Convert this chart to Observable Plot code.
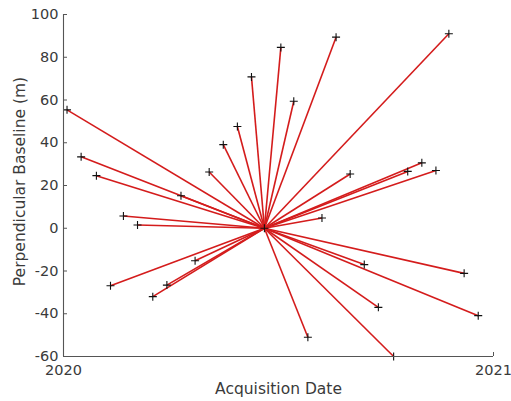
<!DOCTYPE html>
<html>
<head>
<meta charset="utf-8">
<script src="https://cdn.jsdelivr.net/npm/d3@7"></script>
<script src="https://cdn.jsdelivr.net/npm/@observablehq/plot@0.6"></script>
<style>
  html, body { margin: 0; padding: 0; background: #fff; }
  #chart svg { display: block; }
</style>
</head>
<body>
<div id="chart"></div>
<script>
// Data
const masterDate = "2020-06-20";
const masterBaseline = 0;
const dates = ["2020-01-04","2020-01-16","2020-01-29","2020-02-10","2020-02-21","2020-03-04","2020-03-17","2020-03-29","2020-04-10","2020-04-22","2020-05-04","2020-05-16","2020-05-28","2020-06-09","2020-07-04","2020-07-15","2020-07-27","2020-08-08","2020-08-20","2020-09-01","2020-09-13","2020-09-25","2020-10-08","2020-10-20","2020-11-01","2020-11-13","2020-11-24","2020-12-07","2020-12-19"];
const baselines = [55.4, 33.4, 24.6, -26.9, 5.7, 1.5, -32.0, -26.6, 15.2, -15.2, 26.3, 39.1, 47.6, 70.8, 84.6, 59.4, -51.0, 4.8, 89.4, 25.4, -17.0, -37.0, -60.0, 26.6, 30.6, 27.0, 91.0, -21.1, -40.9];
const yTicks = [-60, -40, -20, 0, 20, 40, 60, 80, 100];
const xTickLabels = ["2020", "2021"];

const xDomain = [new Date("2020-01-01"), new Date("2021-01-01")];
const xTicks = xTickLabels.map(s => new Date(s + "-01-01"));

const pairs = dates.map((d, i) => ({date: new Date(d), baseline: baselines[i]}));
const master = {date: new Date(masterDate), baseline: masterBaseline};
const allPoints = [...pairs, master];

const thinPlus = {
  draw(context, size) {
    const r = Math.sqrt(size / Math.PI);
    context.moveTo(-r, 0); context.lineTo(r, 0);
    context.moveTo(0, -r); context.lineTo(0, r);
  }
};

const textColor = "#3a3a3a";
const axisColor = "#555555";

const chart = Plot.plot({
  width: 511,
  height: 401,
  marginLeft: 63,
  marginRight: 18,
  marginTop: 14,
  marginBottom: 45,
  style: {fontFamily: "DejaVu Sans", fontSize: "14.5px", color: textColor, background: "#fff"},
  x: {type: "utc", domain: xDomain},
  y: {domain: [-60, 100]},
  marks: [
    Plot.link(pairs, {
      x1: () => master.date, y1: () => master.baseline,
      x2: "date", y2: "baseline",
      stroke: "#d41c1c", strokeWidth: 1.6
    }),
    Plot.dot(allPoints, {x: "date", y: "baseline", symbol: thinPlus, r: 4, stroke: "#111", strokeWidth: 1.1, fill: "none"}),
    Plot.ruleX([xDomain[0]], {stroke: axisColor, strokeWidth: 1.1}),
    Plot.ruleY([-60], {stroke: axisColor, strokeWidth: 1.1}),
    Plot.axisY(yTicks, {
      anchor: "left", tickSize: -4, tickPadding: 9, stroke: axisColor,
      fontSize: 14.5, fill: textColor, label: null,
      tickFormat: d => String(d)
    }),
    Plot.axisX(xTicks, {
      anchor: "bottom", tickSize: -4, tickPadding: 12, stroke: axisColor,
      fontSize: 14.5, fill: textColor, label: null,
      tickFormat: d => String(d.getUTCFullYear())
    }),
    Plot.text(["Acquisition Date"], {
      frameAnchor: "bottom", dy: 37, fontSize: 15.5, fill: textColor, lineAnchor: "bottom", text: d => d
    }),
    Plot.text(["Perpendicular Baseline (m)"], {
      frameAnchor: "left", dx: -43, dy: -4, rotate: -90, textAnchor: "middle", lineAnchor: "middle",
      fontSize: 15.5, fill: textColor, text: d => d
    })
  ]
});

document.getElementById("chart").appendChild(chart);
</script>
</body>
</html>
